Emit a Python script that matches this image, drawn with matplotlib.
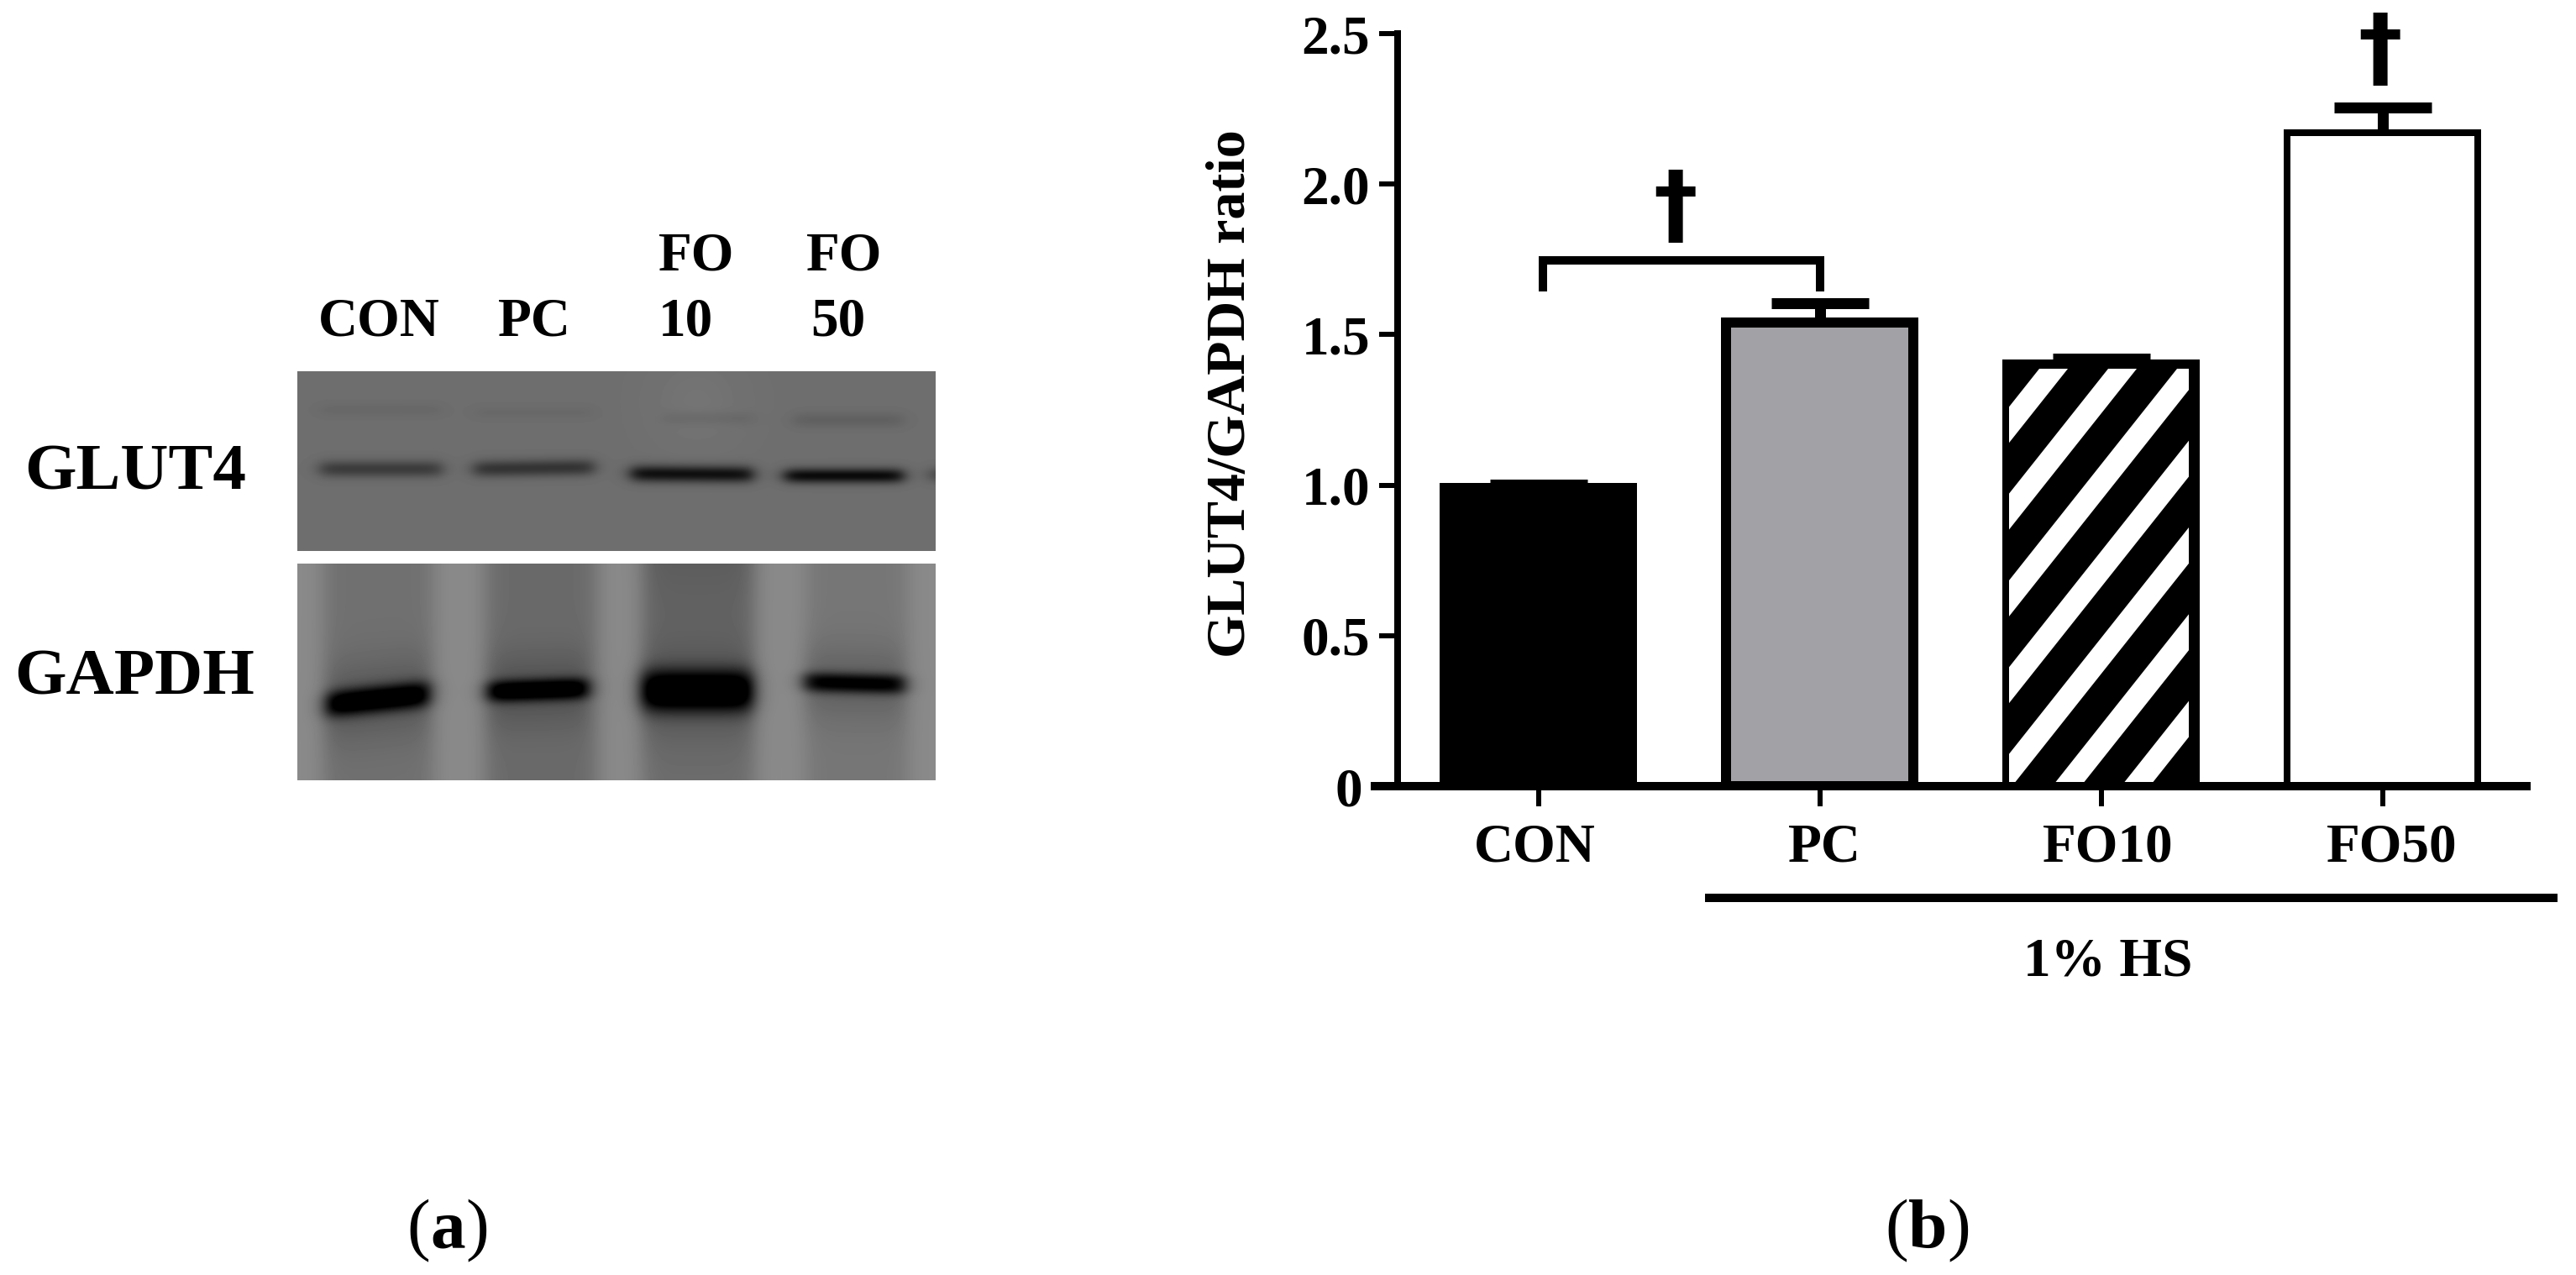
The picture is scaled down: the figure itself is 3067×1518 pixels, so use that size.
import numpy as np
import matplotlib
matplotlib.use("Agg")
import matplotlib.pyplot as plt
from matplotlib.transforms import Affine2D, ScaledTranslation
from matplotlib.patches import Polygon, Rectangle

W, H, DPI = 3067, 1518, 100
SERIF = ["Liberation Serif", "DejaVu Serif"]
plt.rcParams["font.family"] = SERIF
plt.rcParams["font.weight"] = "bold"

# ---- chart data
categories = ["CON", "PC", "FO10", "FO50"]
values = [0.99, 1.54, 1.405, 2.17]
errors = [0.012, 0.065, 0.015, 0.085]
fills = ["black", "#a2a1a5", "black", "white"]
edge_px = [12, 12, 8, 8]
yticks = [0, 0.5, 1.0, 1.5, 2.0, 2.5]
yticklabels = ["0", "0.5", "1.0", "1.5", "2.0", "2.5"]
label_shift_px = [-4, 6, 8, 11]

# ---- blot data: (x0, x1, y centre, half height, tilt, darkness)
top_bands = [(381, 526, 558, 10, 0, 50), (564, 707, 557, 10, -2, 58),
             (751, 896, 564, 10, 1, 95), (934, 1075, 566, 9, 0, 100),
             (1106, 1125, 565, 9, 0, 40),
             (381, 526, 488, 8, 0, 6), (564, 707, 491, 8, 0, 5),
             (790, 896, 498, 8, 0, 8), (945, 1075, 500, 9, 0, 13)]
bottom_bands = [(388, 511, 832, 16, -13, 122), (580, 700, 821, 13, -4, 118),
                (763, 896, 822, 25, 0, 130), (957, 1077, 813, 12, 3, 105)]
bottom_lanes = [(385, 515, 26, 0), (578, 710, 32, 0), (765, 897, 45, 1), (960, 1080, 20, 0)]


def px_scale(v):
    return v * 72 / DPI


fig = plt.figure(figsize=(W / DPI, H / DPI), dpi=DPI, facecolor="white")
PX = Affine2D().scale(1, -1).translate(0, H)


def axes_px(x0, y0, x1, y1):
    return fig.add_axes([x0 / W, 1 - y1 / H, (x1 - x0) / W, (y1 - y0) / H])


# ---- blots
def box(x, a, b, soft):
    return 0.5 * (np.tanh((x - a) / soft) - np.tanh((x - b) / soft))


def draw_top():
    x0, x1, y0, y1 = 354, 1114, 442, 656
    X, Y = np.meshgrid(np.arange(x0, x1), np.arange(y0, y1))
    img = 110 + 6 * np.exp(-((X - 830) / 60.0) ** 2) * np.exp(-((Y - 480) / 60.0) ** 2)
    for a, b, yc, hh, tilt, dark in top_bands:
        yy = yc + tilt * (X - (a + b) / 2) / (b - a)
        img = img - dark * box(X, a, b, 11) * np.exp(-((Y - yy) / hh) ** 2)
    ax = axes_px(x0, y0, x1, y1)
    ax.imshow(np.clip(img, 0, 255), cmap="gray", vmin=0, vmax=255, aspect="auto", interpolation="bilinear")
    ax.axis("off")


def draw_bottom():
    x0, x1, y0, y1 = 354, 1114, 671, 929
    X, Y = np.meshgrid(np.arange(x0, x1), np.arange(y0, y1))
    img = np.full(X.shape, 138.0)
    for a, b, dark, fade in bottom_lanes:
        d = dark * (1 - 0.35 * fade * np.clip((Y - 671) / 140.0, 0, 1))
        img = img - d * box(X, a, b, 14)
    for a, b, yc, hh, tilt, dark in bottom_bands:
        yy = yc + tilt * (X - (a + b) / 2) / (b - a)
        core = np.exp(-(np.abs(Y - yy) / hh) ** 2.4)
        halo = 0.2 * np.exp(-((Y - yy) / (hh + 32)) ** 2)
        img = img - dark * box(X, a, b, 12) * (core + halo)
    ax = axes_px(x0, y0, x1, y1)
    ax.imshow(np.clip(img, 0, 255), cmap="gray", vmin=0, vmax=255, aspect="auto", interpolation="bilinear")
    ax.axis("off")


draw_top()
draw_bottom()

# ---- bar chart
AX0, AX1, Y_TOP, Y_ZERO = 1664, 3008, 40, 936
STEP, FIRST = 335.0, 1831.5
ax = axes_px(AX0, Y_TOP, AX1, Y_ZERO)
ax.patch.set_alpha(0)
ax.set_xlim((AX0 - FIRST) / STEP, (AX1 - FIRST) / STEP)
ax.set_ylim(0, 2.5)
xs = np.arange(len(categories))
widths = [(235 - e) / STEP for e in edge_px]

ax.bar(xs, values, width=widths, color=fills, edgecolor="none", zorder=2)

# stripes of the FO10 bar, clipped to its inner area
inner = Rectangle((2391, 439), 215, 497, transform=PX, fill=False, edgecolor="none")
fig.add_artist(inner)
for k in range(-1, 9):
    x_top = 2428 + 82 * k
    d = 600 / 1.26
    stripe = Polygon([(x_top, 439), (x_top + 34, 439), (x_top + 34 - d, 439 + 600), (x_top - d, 439 + 600)],
                     closed=True, facecolor="white", edgecolor="none", zorder=3)
    ax.add_patch(stripe)
    stripe.set_transform(PX)
    stripe.set_clip_path(inner.get_path(), inner.get_transform())

ax.bar(xs, values, width=widths, color="none", edgecolor="black",
       linewidth=[px_scale(e) for e in edge_px], zorder=4)
eb = ax.errorbar(xs, values, yerr=[[0] * 4, errors], fmt="none", ecolor="black",
                 elinewidth=px_scale(13), capsize=px_scale(58), capthick=px_scale(13), zorder=4)
eb[1][0].set_visible(False)

for s in ("top", "right"):
    ax.spines[s].set_visible(False)
ax.spines["left"].set_linewidth(px_scale(8))
ax.spines["bottom"].set_linewidth(px_scale(10))
ax.spines["bottom"].set_zorder(5)
ax.spines["bottom"].set_bounds((1637 - FIRST) / STEP, (AX1 - FIRST) / STEP)
ax.set_yticks(yticks, yticklabels)
ax.set_xticks(xs, categories)
FS = 47
ax.tick_params(axis="y", length=px_scale(22), width=px_scale(6), pad=px_scale(11), labelsize=FS)
ax.tick_params(axis="x", length=px_scale(24), width=px_scale(6), pad=px_scale(19), labelsize=FS)
for lab, dx in zip(ax.get_xticklabels(), label_shift_px):
    lab.set_transform(lab.get_transform() + ScaledTranslation(dx / DPI, 0, fig.dpi_scale_trans))
zero_lab = ax.get_yticklabels()[0]
zero_lab.set_transform(zero_lab.get_transform() + ScaledTranslation(-9 / DPI, 0, fig.dpi_scale_trans))


def T(x, y, s, size=FS, ha="center", va="center", **kw):
    return fig.text(x, y, s, transform=PX, fontsize=size, ha=ha, va=va, **kw)


T(1466, 469, "GLUT4/GAPDH ratio", size=47.5, rotation=90)
T(2510, 1145, "1% HS")

# bracket and group underline
fig.add_artist(plt.Line2D([1837, 1837, 2167, 2167], [347, 310, 310, 347], transform=PX, color="black",
                          linewidth=px_scale(10), solid_joinstyle="miter", solid_capstyle="butt"))
fig.add_artist(plt.Line2D([2030, 3045], [1069, 1069], transform=PX, color="black",
                          linewidth=px_scale(10), solid_capstyle="butt"))
# daggers
DAG = dict(family=["DejaVu Sans"], size=76)
T(1995, 250, "\u2020", **DAG)
T(2834, 63, "\u2020", **DAG)

# blot labels
T(451, 383, "CON")
T(636, 383, "PC")
T(829, 306, "FO")
T(816, 383, "10")
T(1005, 306, "FO")
T(998, 383, "50")
T(161, 564, "GLUT4", size=57)
T(160, 808, "GAPDH", size=57)

# panel letters: bold letter between regular parentheses
BASE = 1485
for cx, half, letter in [(533, 21, "a"), (2295, 23, "b")]:
    T(cx, BASE, letter, size=60, va="baseline")
    T(cx - half, BASE, "(", size=60, weight="normal", ha="right", va="baseline")
    T(cx + half, BASE, ")", size=60, weight="normal", ha="left", va="baseline")
fig.savefig("out.png", dpi=DPI)
